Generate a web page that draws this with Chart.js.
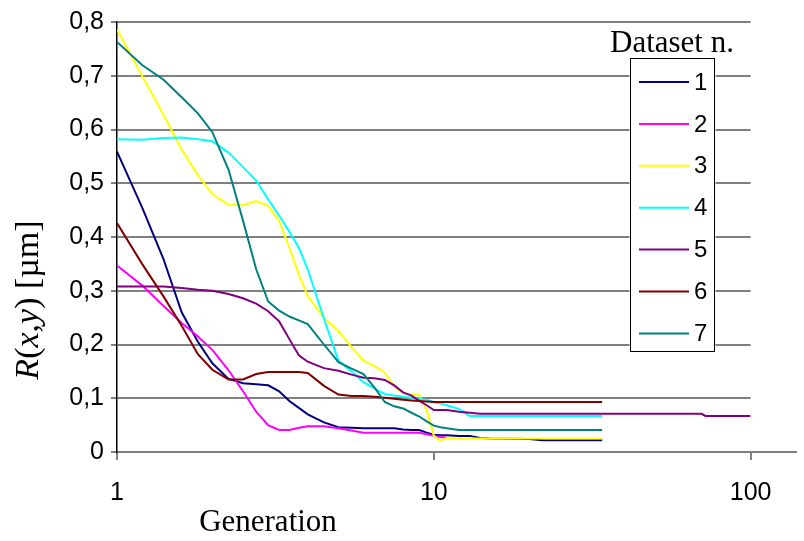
<!DOCTYPE html>
<html>
<head>
<meta charset="utf-8">
<script src="https://cdn.jsdelivr.net/npm/chart.js@4.4.1/dist/chart.umd.min.js"></script>
<style>
  html, body { margin: 0; padding: 0; background: #fff; }
  #wrap { width: 804px; height: 541px; }
</style>
</head>
<body>
<div id="wrap"><canvas id="c" width="804" height="541"></canvas></div>
<script>
// Generation values (x, log scale)
const generations = [1, 1.2, 1.4, 1.6, 1.8, 2, 2.25, 2.5, 2.75, 3, 3.25, 3.5, 3.75, 4, 4.5, 5, 5.5, 6, 6.5, 7, 7.5, 8, 8.5, 9, 9.5, 10, 10.5, 11, 12, 13, 14, 15, 20, 22, 34, 70, 72, 100];

// R(x,y) [µm] per dataset (null = no data)
const dataset1 = [0.559, 0.455, 0.36, 0.26, 0.205, 0.165, 0.136, 0.128, 0.126, 0.124, 0.113, 0.095, 0.082, 0.07, 0.055, 0.046, 0.045, 0.044, 0.044, 0.044, 0.044, 0.042, 0.041, 0.041, 0.036, 0.032, 0.031, 0.031, 0.03, 0.03, 0.026, 0.025, 0.024, 0.022, 0.022, null, null, null];
const dataset2 = [0.347, 0.31, 0.272, 0.24, 0.215, 0.19, 0.152, 0.113, 0.075, 0.05, 0.041, 0.041, 0.045, 0.048, 0.048, 0.044, 0.04, 0.036, 0.036, 0.036, 0.036, 0.036, 0.036, 0.036, 0.033, 0.03, 0.028, 0.027, null, null, null, null, null, null, null, null, null, null];
const dataset3 = [0.786, 0.70, 0.628, 0.563, 0.515, 0.48, 0.46, 0.459, 0.467, 0.458, 0.43, 0.38, 0.33, 0.29, 0.25, 0.225, 0.195, 0.17, 0.16, 0.148, 0.122, 0.11, 0.107, 0.106, 0.078, 0.03, 0.021, 0.026, 0.025, 0.025, 0.025, 0.025, 0.025, 0.025, 0.025, null, null, null];
const dataset4 = [0.582, 0.581, 0.584, 0.585, 0.582, 0.578, 0.557, 0.53, 0.505, 0.47, 0.44, 0.41, 0.38, 0.34, 0.248, 0.17, 0.15, 0.13, 0.118, 0.108, 0.105, 0.103, 0.101, 0.099, 0.097, 0.093, 0.09, 0.087, 0.08, 0.067, 0.067, 0.067, 0.067, 0.067, 0.067, null, null, null];
const dataset5 = [0.308, 0.308, 0.308, 0.305, 0.302, 0.30, 0.294, 0.286, 0.276, 0.262, 0.243, 0.21, 0.18, 0.168, 0.156, 0.151, 0.144, 0.138, 0.137, 0.134, 0.124, 0.111, 0.105, 0.095, 0.087, 0.078, 0.078, 0.078, 0.075, 0.073, 0.071, 0.071, 0.071, 0.071, 0.071, 0.071, 0.067, 0.067];
const dataset6 = [0.426, 0.35, 0.29, 0.235, 0.182, 0.153, 0.135, 0.135, 0.145, 0.149, 0.149, 0.149, 0.149, 0.147, 0.123, 0.107, 0.104, 0.104, 0.103, 0.101, 0.099, 0.097, 0.096, 0.095, 0.094, 0.093, 0.093, 0.093, 0.093, 0.093, 0.093, 0.093, 0.093, 0.093, 0.093, null, null, null];
const dataset7 = [0.763, 0.72, 0.693, 0.66, 0.63, 0.595, 0.525, 0.43, 0.34, 0.28, 0.263, 0.252, 0.245, 0.238, 0.2, 0.167, 0.155, 0.145, 0.12, 0.093, 0.085, 0.081, 0.073, 0.066, 0.057, 0.049, 0.046, 0.044, 0.041, 0.041, 0.041, 0.041, 0.041, 0.041, 0.041, null, null, null];

const seriesLabels = ['1', '2', '3', '4', '5', '6', '7'];
const seriesColors = ['#000080', '#FF00FF', '#FFFF00', '#00FFFF', '#800080', '#800000', '#008080'];
const xTickValues = [1, 10, 100];
const yTickStep = 0.1;

const allSeries = [dataset1, dataset2, dataset3, dataset4, dataset5, dataset6, dataset7];

const datasets = allSeries.map((arr, i) => ({
  label: seriesLabels[i],
  data: generations.map((g, j) => (arr[j] === null ? null : { x: g, y: arr[j] })).filter(p => p !== null),
  borderColor: seriesColors[i],
  backgroundColor: seriesColors[i],
  borderWidth: 2,
  pointRadius: 0,
  tension: 0,
  fill: false,
  order: allSeries.length - i
}));

const SANS = "'Liberation Sans', Arial, sans-serif";
const SERIF = "'Liberation Serif', 'Times New Roman', serif";

const decorPlugin = {
  id: 'decor',
  afterDraw(chart) {
    const ctx = chart.ctx;
    const ca = chart.chartArea;
    const yScale = chart.scales.y;
    const y0 = yScale.getPixelForValue(0);
    ctx.save();
    // x-axis extension beyond 100
    ctx.strokeStyle = '#808080';
    ctx.lineWidth = 2;
    ctx.beginPath();
    ctx.moveTo(ca.right - 1, y0);
    ctx.lineTo(797, y0);
    ctx.stroke();

    // x-axis title
    ctx.fillStyle = '#000';
    ctx.font = '31px ' + SERIF;
    ctx.textAlign = 'center';
    ctx.textBaseline = 'alphabetic';
    ctx.fillText('Generation', 268, 531);

    // y-axis title, mixed italic
    const parts = [
      ['R', true], ['(', false], ['x', true], [',', false], ['y', true], [') [µm]', false]
    ];
    const fnt = it => (it ? 'italic ' : '') + '34px ' + SERIF;
    let total = 0;
    parts.forEach(p => { ctx.font = fnt(p[1]); total += ctx.measureText(p[0]).width; });
    ctx.translate(38, 300);
    ctx.rotate(-Math.PI / 2);
    ctx.textAlign = 'left';
    let xx = -total / 2;
    parts.forEach(p => { ctx.font = fnt(p[1]); ctx.fillText(p[0], xx, 0); xx += ctx.measureText(p[0]).width; });
    ctx.restore();

    // legend
    ctx.save();
    const bx = 630.5, by = 58.5, bw = 84, bh = 293;
    ctx.fillStyle = '#fff';
    ctx.fillRect(bx - 1, by, bw + 2, bh);
    ctx.strokeStyle = '#000';
    ctx.lineWidth = 1;
    ctx.strokeRect(bx, by, bw, bh);
    ctx.fillStyle = '#000';
    ctx.font = '31px ' + SERIF;
    ctx.textAlign = 'center';
    ctx.textBaseline = 'alphabetic';
    ctx.fillText('Dataset n.', 672, 52);
    chart.data.datasets.forEach((ds, i) => {
      const yy = 82 + i * 41.9;
      ctx.strokeStyle = ds.borderColor;
      ctx.lineWidth = 2;
      ctx.beginPath();
      ctx.moveTo(639, yy);
      ctx.lineTo(689, yy);
      ctx.stroke();
      ctx.fillStyle = '#000';
      ctx.font = '24px ' + SANS;
      ctx.textAlign = 'left';
      ctx.textBaseline = 'middle';
      ctx.fillText(ds.label, 694, yy + 1);
    });
    ctx.restore();
  }
};

new Chart(document.getElementById('c'), {
  type: 'line',
  data: { datasets },
  plugins: [decorPlugin],
  options: {
    responsive: false,
    animation: false,
    parsing: true,
    layout: { padding: { top: 20, right: 53.4, left: 0, bottom: 0 } },
    plugins: { legend: { display: false }, tooltip: { enabled: false }, title: { display: false } },
    scales: {
      x: {
        type: 'logarithmic',
        min: 1,
        max: 100,
        afterBuildTicks: s => { s.ticks = xTickValues.map(v => ({ value: v })); },
        afterFit: s => { s.height = 89; },
        ticks: {
          autoSkip: false,
          maxRotation: 0,
          color: '#000',
          font: { family: SANS, size: 25 },
          padding: 18,
          callback: v => String(v)
        },
        grid: { drawOnChartArea: false, drawTicks: true, tickLength: 8, color: '#808080', lineWidth: 2 },
        border: { display: true, color: '#808080', width: 2 }
      },
      y: {
        min: 0,
        max: 0.8,
        afterFit: s => { s.width = 117; },
        ticks: {
          stepSize: yTickStep,
          color: '#000',
          font: { family: SANS, size: 25 },
          padding: 7,
          callback: v => (Math.abs(v) < 1e-9 ? '0' : v.toFixed(1).replace('.', ','))
        },
        grid: { color: '#808080', lineWidth: 2, tickLength: 6 },
        border: { display: true, color: '#000', width: 1.5 }
      }
    }
  }
});
</script>
</body>
</html>
